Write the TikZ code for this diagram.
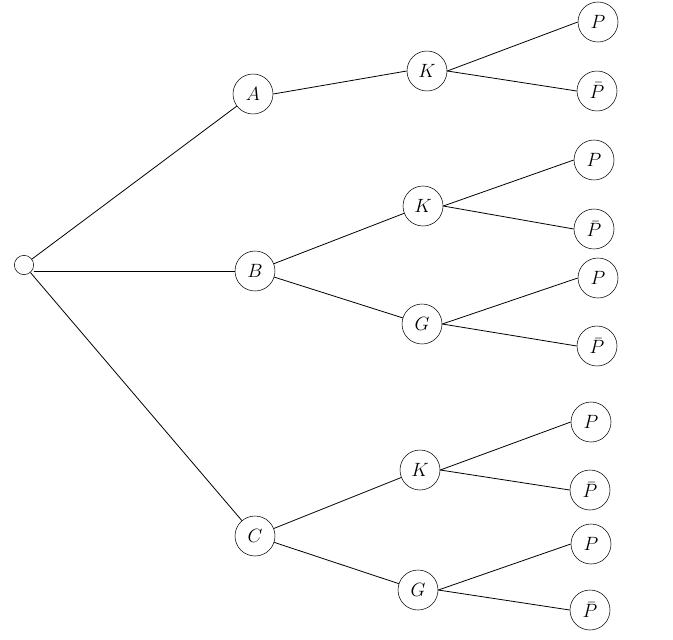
\documentclass[tikz,border=0pt]{standalone}
\usepackage{tikz}
\usetikzlibrary{positioning}

\begin{document}
\begin{tikzpicture}[
      x=0.75pt,y=-0.75pt,
      state/.style={draw,circle,minimum size=30pt,inner sep=0pt,
        font=\fontsize{14}{16}\selectfont},
      start/.style={draw,circle,minimum size=14.5pt,inner sep=0pt},
      edge/.style={line width=0.6pt}
    ]
      \useasboundingbox (0,0) rectangle (673,639);
      \node[start] (root) at (24,265) {};
      \node[state] (A) at (253,94) {$A$};
      \node[state] (B) at (255,271) {$B$};
      \node[state] (C) at (255,536) {$C$};
      \node[state] (AK) at (427,71) {$K$};
      \node[state] (BK) at (423,206) {$K$};
      \node[state] (BG) at (422,324) {$G$};
      \node[state] (CK) at (420,470) {$K$};
      \node[state] (CG) at (418,590) {$G$};
      \node[state] (AKP) at (598,22) {$P$};
      \node[state] (AKQ) at (597,91) {$\bar{P}$};
      \node[state] (BKP) at (594,160) {$P$};
      \node[state] (BKQ) at (594,229) {$\bar{P}$};
      \node[state] (BGP) at (598,278) {$P$};
      \node[state] (BGQ) at (597,346) {$\bar{P}$};
      \node[state] (CKP) at (591,422) {$P$};
      \node[state] (CKQ) at (590,490) {$\bar{P}$};
      \node[state] (CGP) at (591,544) {$P$};
      \node[state] (CGQ) at (590,610) {$\bar{P}$};
      \draw[edge] (root) -- (A);
      \draw[edge] (root.east |- B.west) -- (B.west);
      \draw[edge] (root) -- (C);
      \draw[edge] (A.east) -- (AK.west);
      \draw[edge] (B) -- (BK);
      \draw[edge] (B) -- (BG);
      \draw[edge] (C) -- (CK);
      \draw[edge] (C) -- (CG);
      \foreach \n in {AK,BK,BG,CK,CG}{
        \draw[edge] (\n.east) -- (\n P.west);
        \draw[edge] (\n.east) -- (\n Q.west);
      }
    \end{tikzpicture}
\end{document}
